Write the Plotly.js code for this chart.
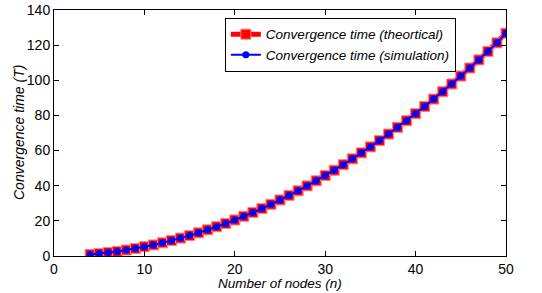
<!DOCTYPE html>
<html><head><meta charset="utf-8">
<script src="https://cdn.plot.ly/plotly-3.0.1.min.js"></script>
<style>html,body{margin:0;padding:0;background:#fff}#c{width:542px;height:293px}</style>
</head><body><div id="c"></div>
<script>
var nodes = [4,5,6,7,8,9,10,11,12,13,14,15,16,17,18,19,20,21,22,23,24,25,26,27,28,29,30,31,32,33,34,35,36,37,38,39,40,41,42,43,44,45,46,47,48,49,50];
var theoretical = [0.9,1.4,2.0,2.6,3.4,4.3,5.3,6.3,7.5,8.8,10.2,11.6,13.2,14.9,16.7,18.5,20.5,22.6,24.8,27.0,29.4,31.9,34.5,37.1,39.9,42.8,45.8,48.8,52.0,55.3,58.7,62.1,65.7,69.4,73.2,77.0,81.0,85.1,89.3,93.5,97.9,102.4,107.0,111.6,116.4,121.3,126.8];
var simulation = [0.9,1.4,2.0,2.6,3.4,4.3,5.3,6.3,7.5,8.8,10.2,11.6,13.2,14.9,16.7,18.5,20.5,22.6,24.8,27.0,29.4,31.9,34.5,37.1,39.9,42.8,45.8,48.8,52.0,55.3,58.7,62.1,65.7,69.4,73.2,77.0,81.0,85.1,89.3,93.5,97.9,102.4,107.0,111.6,116.4,121.3,126.8];
var xTicks = [0,10,20,30,40,50];
var yTicks = [0,20,40,60,80,100,120,140];
var xTitle = 'Number of nodes (n)';
var yTitle = 'Convergence time (T)';

var font = 'Liberation Sans, Arial, sans-serif';
var traces = [
  {x: nodes, y: theoretical, mode: 'lines+markers', name: '<i>Convergence time (theortical)</i>',
   line: {color: '#ff0000', width: 5}, marker: {symbol: 'square', size: 10, color: '#ff0000', line: {color: '#ff8080', width: 1}}},
  {x: nodes, y: simulation, mode: 'lines+markers', name: '<i>Convergence time (simulation)</i>',
   line: {color: '#0000ff', width: 2}, marker: {symbol: 'circle', size: 7, color: '#0000ff'}}
];
var axisCommon = {showgrid: false, zeroline: false, showline: true, mirror: 'ticks', linecolor: '#000', linewidth: 1,
  ticks: 'inside', ticklen: 5, tickcolor: '#000', tickfont: {family: font, size: 14, color: '#000'}};
var layout = {
  width: 542, height: 293,
  margin: {l: 54, r: 36, t: 10, b: 37},
  paper_bgcolor: '#fff', plot_bgcolor: '#fff',
  showlegend: true,
  legend: {x: 0.378, y: 0.968, xanchor: 'left', yanchor: 'top', bordercolor: '#000', borderwidth: 1, bgcolor: '#fff',
    font: {family: font, size: 13.5, color: '#000'}, itemwidth: 30, tracegroupgap: 0},
  xaxis: Object.assign({}, axisCommon, {range: [0, 50], tickvals: xTicks, ticktext: xTicks.map(String)}),
  yaxis: Object.assign({}, axisCommon, {range: [0, 140], tickvals: yTicks, ticktext: yTicks.map(String)}),
  annotations: [
    {text: '<i>' + xTitle + '</i>', xref: 'paper', yref: 'paper', x: 0.5, y: 0, xanchor: 'center', yanchor: 'middle',
     yshift: -27.5, showarrow: false, font: {family: font, size: 13.5, color: '#000'}},
    {text: '<i>' + yTitle + '</i>', xref: 'paper', yref: 'paper', x: 0, y: 0.5, xanchor: 'center', yanchor: 'middle',
     xshift: -35, textangle: -90, showarrow: false, font: {family: font, size: 14, color: '#000'}}
  ]
};
Plotly.newPlot('c', traces, layout, {staticPlot: true, displayModeBar: false});
</script></body></html>
